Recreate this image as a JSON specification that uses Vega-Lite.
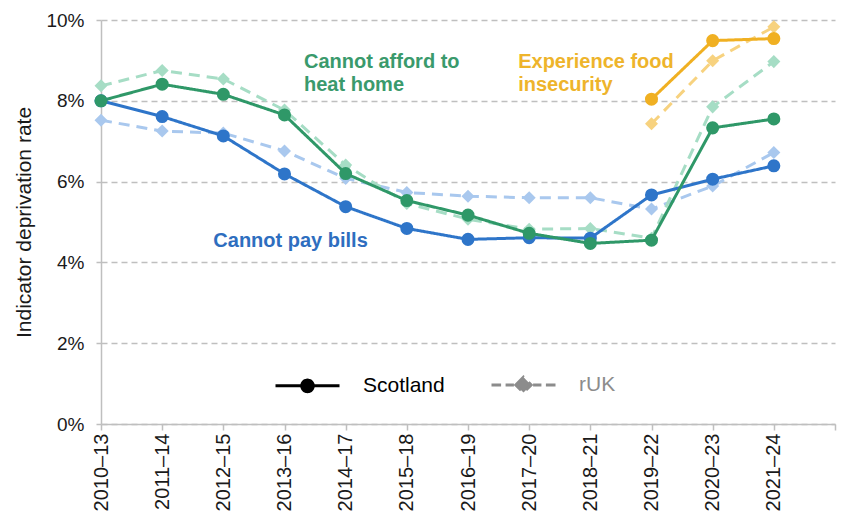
{
  "$schema": "https://vega.github.io/schema/vega-lite/v6.json",
  "width": 734,
  "height": 404,
  "autosize": {"type": "none"},
  "padding": {"left": 101, "top": 20, "right": 13, "bottom": 108},
  "background": "white",
  "config": {"font": "Liberation Sans", "view": {"stroke": null}},
  "datasets": {
    "series": [
      {"period": "2010–13", "indicator": "bills", "region": "Scotland", "value": 8.00},
      {"period": "2011–14", "indicator": "bills", "region": "Scotland", "value": 7.61},
      {"period": "2012–15", "indicator": "bills", "region": "Scotland", "value": 7.13},
      {"period": "2013–16", "indicator": "bills", "region": "Scotland", "value": 6.19},
      {"period": "2014–17", "indicator": "bills", "region": "Scotland", "value": 5.38},
      {"period": "2015–18", "indicator": "bills", "region": "Scotland", "value": 4.84},
      {"period": "2016–19", "indicator": "bills", "region": "Scotland", "value": 4.57},
      {"period": "2017–20", "indicator": "bills", "region": "Scotland", "value": 4.61},
      {"period": "2018–21", "indicator": "bills", "region": "Scotland", "value": 4.60},
      {"period": "2019–22", "indicator": "bills", "region": "Scotland", "value": 5.67},
      {"period": "2020–23", "indicator": "bills", "region": "Scotland", "value": 6.06},
      {"period": "2021–24", "indicator": "bills", "region": "Scotland", "value": 6.39},
      {"period": "2010–13", "indicator": "bills", "region": "rUK", "value": 7.52},
      {"period": "2011–14", "indicator": "bills", "region": "rUK", "value": 7.25},
      {"period": "2012–15", "indicator": "bills", "region": "rUK", "value": 7.20},
      {"period": "2013–16", "indicator": "bills", "region": "rUK", "value": 6.76},
      {"period": "2014–17", "indicator": "bills", "region": "rUK", "value": 6.08},
      {"period": "2015–18", "indicator": "bills", "region": "rUK", "value": 5.73},
      {"period": "2016–19", "indicator": "bills", "region": "rUK", "value": 5.64},
      {"period": "2017–20", "indicator": "bills", "region": "rUK", "value": 5.60},
      {"period": "2018–21", "indicator": "bills", "region": "rUK", "value": 5.60},
      {"period": "2019–22", "indicator": "bills", "region": "rUK", "value": 5.32},
      {"period": "2020–23", "indicator": "bills", "region": "rUK", "value": 5.89},
      {"period": "2021–24", "indicator": "bills", "region": "rUK", "value": 6.72},
      {"period": "2010–13", "indicator": "heat", "region": "Scotland", "value": 8.00},
      {"period": "2011–14", "indicator": "heat", "region": "Scotland", "value": 8.41},
      {"period": "2012–15", "indicator": "heat", "region": "Scotland", "value": 8.16},
      {"period": "2013–16", "indicator": "heat", "region": "Scotland", "value": 7.65},
      {"period": "2014–17", "indicator": "heat", "region": "Scotland", "value": 6.20},
      {"period": "2015–18", "indicator": "heat", "region": "Scotland", "value": 5.53},
      {"period": "2016–19", "indicator": "heat", "region": "Scotland", "value": 5.17},
      {"period": "2017–20", "indicator": "heat", "region": "Scotland", "value": 4.72},
      {"period": "2018–21", "indicator": "heat", "region": "Scotland", "value": 4.47},
      {"period": "2019–22", "indicator": "heat", "region": "Scotland", "value": 4.55},
      {"period": "2020–23", "indicator": "heat", "region": "Scotland", "value": 7.33},
      {"period": "2021–24", "indicator": "heat", "region": "Scotland", "value": 7.55},
      {"period": "2010–13", "indicator": "heat", "region": "rUK", "value": 8.37},
      {"period": "2011–14", "indicator": "heat", "region": "rUK", "value": 8.75},
      {"period": "2012–15", "indicator": "heat", "region": "rUK", "value": 8.54},
      {"period": "2013–16", "indicator": "heat", "region": "rUK", "value": 7.77},
      {"period": "2014–17", "indicator": "heat", "region": "rUK", "value": 6.41},
      {"period": "2015–18", "indicator": "heat", "region": "rUK", "value": 5.46},
      {"period": "2016–19", "indicator": "heat", "region": "rUK", "value": 5.07},
      {"period": "2017–20", "indicator": "heat", "region": "rUK", "value": 4.82},
      {"period": "2018–21", "indicator": "heat", "region": "rUK", "value": 4.84},
      {"period": "2019–22", "indicator": "heat", "region": "rUK", "value": 4.60},
      {"period": "2020–23", "indicator": "heat", "region": "rUK", "value": 7.85},
      {"period": "2021–24", "indicator": "heat", "region": "rUK", "value": 8.97},
      {"period": "2019–22", "indicator": "food", "region": "Scotland", "value": 8.04},
      {"period": "2020–23", "indicator": "food", "region": "Scotland", "value": 9.49},
      {"period": "2021–24", "indicator": "food", "region": "Scotland", "value": 9.54},
      {"period": "2019–22", "indicator": "food", "region": "rUK", "value": 7.43},
      {"period": "2020–23", "indicator": "food", "region": "rUK", "value": 8.99},
      {"period": "2021–24", "indicator": "food", "region": "rUK", "value": 9.83}
    ]
  },
  "encoding": {
    "x": {
      "field": "period",
      "type": "ordinal",
      "scale": {
        "type": "point",
        "padding": 0,
        "domain": ["2010–13", "2011–14", "2012–15", "2013–16", "2014–17", "2015–18", "2016–19", "2017–20", "2018–21", "2019–22", "2020–23", "2021–24", " "]
      },
      "axis": {
        "title": null,
        "labelAngle": -90,
        "labelAlign": "right",
        "labelBaseline": "middle",
        "labelFontSize": 20,
        "labelColor": "#1a1a1a",
        "labelPadding": 3,
        "tickSize": 6,
        "tickColor": "#BFBFBF",
        "tickWidth": 1.5,
        "domainColor": "#BFBFBF",
        "domainWidth": 1.5,
        "grid": false
      }
    },
    "y": {
      "field": "value",
      "type": "quantitative",
      "scale": {"domain": [0, 10], "nice": false},
      "axis": {
        "values": [0, 2, 4, 6, 8, 10],
        "labelExpr": "datum.value + '%'",
        "labelFontSize": 19,
        "labelColor": "#1a1a1a",
        "labelPadding": 12,
        "tickSize": 5,
        "tickColor": "#BFBFBF",
        "tickWidth": 1.5,
        "domainColor": "#BFBFBF",
        "domainWidth": 1.5,
        "grid": true,
        "gridColor": "#BFBFBF",
        "gridDash": [6, 4],
        "gridWidth": 1.5,
        "title": "Indicator deprivation rate",
        "titleFontSize": 21,
        "titleFontWeight": "normal",
        "titleColor": "#1a1a1a",
        "titleX": -77,
        "titleY": 202,
        "titleAngle": -90,
        "titleAlign": "center",
        "titleBaseline": "middle"
      }
    }
  },
  "layer": [
    {
      "data": {"name": "series"},
      "transform": [{"filter": "datum.region === 'rUK'"}],
      "mark": {"type": "line", "strokeWidth": 3},
      "encoding": {
        "color": {
          "field": "indicator",
          "type": "nominal",
          "scale": {"domain": ["bills", "heat", "food"], "range": ["#A9C8EE", "#A6DDC5", "#F7D27F"]},
          "legend": null
        },
        "strokeDash": {
          "field": "region",
          "type": "nominal",
          "scale": {"domain": ["Scotland", "rUK"], "range": [[1, 0], [11, 7]]},
          "legend": {
            "title": null,
            "orient": "none",
            "direction": "horizontal",
            "legendX": 173,
            "legendY": 331,
            "padding": 0,
            "symbolSize": 4096,
            "symbolStrokeWidth": 3,
            "labelFontSize": 21,
            "labelOffset": 22,
            "columnPadding": 40,
            "encode": {
              "symbols": {
                "update": {
                  "shape": {"signal": "datum.value === 'Scotland' ? 'M-1,0H1M-0.18,0A0.18,0.18,0,1,0,0.18,0A0.18,0.18,0,1,0,-0.18,0Z' : 'M-1,0H-0.7M-0.56,0H-0.3M0.3,0H0.56M0.7,0H1M-0.24,0L0,-0.24L0.24,0L0,0.24Z'"},
                  "stroke": {"signal": "datum.value === 'Scotland' ? '#000000' : '#8c8c8c'"},
                  "fill": {"signal": "datum.value === 'Scotland' ? '#000000' : '#8c8c8c'"},
                  "strokeDash": {"value": [1, 0]},
                  "strokeWidth": {"value": 3},
                  "opacity": {"value": 1}
                }
              },
              "labels": {
                "update": {
                  "fill": {"signal": "datum.value === 'Scotland' ? '#000000' : '#8c8c8c'"}
                }
              }
            }
          }
        }
      }
    },
    {
      "data": {"name": "series"},
      "transform": [{"filter": "datum.region === 'rUK'"}],
      "mark": {"type": "point", "shape": "diamond", "filled": true, "size": 170, "opacity": 1},
      "encoding": {
        "color": {
          "field": "indicator",
          "type": "nominal",
          "scale": {"domain": ["bills", "heat", "food"], "range": ["#A9C8EE", "#A6DDC5", "#F7D27F"]},
          "legend": null
        }
      }
    },
    {
      "data": {"name": "series"},
      "transform": [{"filter": "datum.region === 'Scotland'"}],
      "mark": {"type": "line", "strokeWidth": 3},
      "encoding": {
        "color": {
          "field": "indicator",
          "type": "nominal",
          "scale": {"domain": ["bills", "heat", "food"], "range": ["#2E75C9", "#2F9868", "#F0B022"]},
          "legend": null
        },
        "strokeDash": {"field": "region", "type": "nominal"}
      }
    },
    {
      "data": {"name": "series"},
      "transform": [{"filter": "datum.region === 'Scotland'"}],
      "mark": {"type": "point", "shape": "circle", "filled": true, "size": 170, "opacity": 1},
      "encoding": {
        "color": {
          "field": "indicator",
          "type": "nominal",
          "scale": {"domain": ["bills", "heat", "food"], "range": ["#2E75C9", "#2F9868", "#F0B022"]},
          "legend": null
        }
      }
    },
    {
      "data": {"values": [{"period": "2013–16", "value": 8.8, "label": "Cannot afford to\nheat home"}]},
      "mark": {"type": "text", "align": "left", "baseline": "alphabetic", "dx": 19.5, "lineBreak": "\n", "lineHeight": 23, "fontSize": 20, "fontWeight": "bold", "color": "#3A9A6C"},
      "encoding": {"text": {"field": "label"}}
    },
    {
      "data": {"values": [{"period": "2017–20", "value": 8.8, "label": "Experience food\ninsecurity"}]},
      "mark": {"type": "text", "align": "left", "baseline": "alphabetic", "dx": -11, "lineBreak": "\n", "lineHeight": 23, "fontSize": 20, "fontWeight": "bold", "color": "#EEB42B"},
      "encoding": {"text": {"field": "label"}}
    },
    {
      "data": {"values": [{"period": "2012–15", "value": 4.39, "label": "Cannot pay bills"}]},
      "mark": {"type": "text", "align": "left", "baseline": "alphabetic", "dx": -10, "fontSize": 20, "fontWeight": "bold", "color": "#2E6EBF"},
      "encoding": {"text": {"field": "label"}}
    }
  ],
  "resolve": {"scale": {"color": "independent"}}
}
